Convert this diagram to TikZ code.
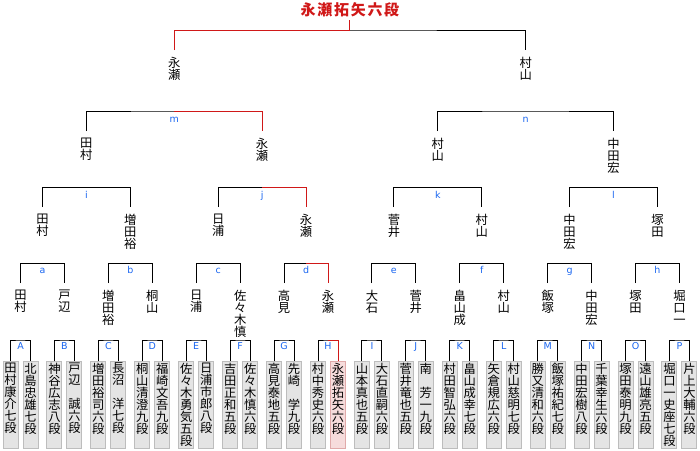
\documentclass[tikz,border=0pt]{standalone}
\usepackage{fontspec}
\newfontfamily\cjk{Noto Sans CJK JP}
\newfontfamily\labfam{DejaVu Sans}
\definecolor{wred}{HTML}{D01818}
\definecolor{lblue}{HTML}{1A66F0}
\definecolor{boxfill}{HTML}{E4E4E4}
\definecolor{boxline}{HTML}{BDBDBD}
\definecolor{pinkfill}{HTML}{F6DCDC}
\definecolor{pinkline}{HTML}{E0AAAA}
\makeatletter
\def\vt#1{\edef\vt@tmp{#1}\expandafter\vt@aux\vt@tmp\relax}
\def\vt@aux#1{\ifx\relax#1\else\hbox to 12pt{\hss#1\hss}\expandafter\vt@aux\fi}
\def\hzt#1{\edef\vt@tmp{#1}\expandafter\hz@aux\vt@tmp\relax}
\def\hz@aux#1{\ifx\relax#1\else\hbox to 16.7pt{\hss#1\hss}\expandafter\hz@aux\fi}
\makeatother
\def\vleaf#1{\vbox to 87pt{\baselineskip=12pt\lineskiplimit=-20pt\lineskip=0pt\kern1.5pt\vt{#1}\vss}}
\def\vname#1{\vbox{\baselineskip=12pt\lineskiplimit=-20pt\lineskip=0pt\vt{#1}}}
\begin{document}
\begin{tikzpicture}[x=1pt,y=-1pt,
  br/.style={draw=black,line width=1pt},
  rbr/.style={draw=wred,line width=1pt},
  leaf/.style={draw=boxline,fill=boxfill,line width=1pt,minimum width=15pt,minimum height=87pt,inner sep=0pt,anchor=north,font=\cjk\fontsize{12.3}{12}\selectfont},
  winleaf/.style={leaf,draw=pinkline,fill=pinkfill},
  nm/.style={inner xsep=0pt,inner ysep=7pt,anchor=north,font=\cjk\fontsize{12.3}{12}\selectfont},
  lab/.style={anchor=base,inner sep=0pt,text=lblue,font=\labfam\fontsize{9.5}{10}\selectfont},
  ttl/.style={anchor=south,inner xsep=0pt,inner ysep=3pt,text=wred,font=\cjk\bfseries\fontsize{15}{15}\selectfont}]
\useasboundingbox (0,0) rectangle (700,450);
% leaves, level-4 brackets, level-3 names
\foreach \k/\L/\a/\b/\s/\n in {
 0/A/田村康介七段/北島忠雄七段/leaf/田村,
 1/B/神谷広志八段/戸辺　誠六段/leaf/戸辺,
 2/C/増田裕司六段/長沼　洋七段/leaf/増田裕,
 3/D/桐山清澄九段/福崎文吾九段/leaf/桐山,
 4/E/佐々木勇気五段/日浦市郎八段/leaf/日浦,
 5/F/吉田正和五段/佐々木慎六段/leaf/佐々木慎,
 6/G/高見泰地五段/先崎　学九段/leaf/高見,
 7/H/村中秀史六段/永瀬拓矢六段/winleaf/永瀬,
 8/I/山本真也五段/大石直嗣六段/leaf/大石,
 9/J/菅井竜也五段/南　芳一九段/leaf/菅井,
 10/K/村田智弘六段/畠山成幸七段/leaf/畠山成,
 11/L/矢倉規広六段/村山慈明七段/leaf/村山,
 12/M/勝又清和六段/飯塚祐紀七段/leaf/飯塚,
 13/N/中田宏樹八段/千葉幸生六段/leaf/中田宏,
 14/O/塚田泰明九段/遠山雄亮五段/leaf/塚田,
 15/P/堀口一史座七段/片上大輔六段/leaf/堀口一}{
  \pgfmathsetmacro\px{20.5+43.93*\k}
  \node[leaf] (\L1) at (\px-10,361) {\vleaf{\a}};
  \node[\s] (\L2) at (\px+10,361) {\vleaf{\b}};
  \coordinate (b4-\k) at (\px,340);
  \draw[br] (\L1.north) |- (b4-\k) -| (\L2.north);
  \node[lab] (l\L) at (\px,349.3) {\L};
  \node[nm] (n3-\k) at (\px,283) {\vname{\n}};
}
% level-3 brackets, level-2 names
\foreach \j/\l/\n in {0/a/田村,1/b/増田裕,2/c/日浦,3/d/永瀬,4/e/菅井,5/f/村山,6/g/中田宏,7/h/塚田}{
  \pgfmathsetmacro\qx{42.465+87.86*\j}
  \pgfmathtruncatemacro\ka{2*\j}
  \pgfmathtruncatemacro\kb{2*\j+1}
  \coordinate (b3-\j) at (\qx,263.3);
  \draw[br] (n3-\ka.north) |- (b3-\j) -| (n3-\kb.north);
  \node[lab] (l3-\j) at (\qx,273.3) {\l};
  \node[nm] (n2-\j) at (\qx,207) {\vname{\n}};
}
% level-2 brackets, level-1 names
\foreach \i/\l/\n in {0/i/田村,1/j/永瀬,2/k/村山,3/l/中田宏}{
  \pgfmathsetmacro\rx{86.395+175.72*\i}
  \pgfmathtruncatemacro\ka{2*\i}
  \pgfmathtruncatemacro\kb{2*\i+1}
  \coordinate (b2-\i) at (\rx,187.3);
  \draw[br] (n2-\ka.north) |- (b2-\i) -| (n2-\kb.north);
  \node[lab] (l2-\i) at (\rx,198.3) {\l};
  \node[nm] (n1-\i) at (\rx,131) {\vname{\n}};
}
% level-1 brackets, level-0 names
\foreach \m/\l/\n in {0/m/永瀬,1/n/村山}{
  \pgfmathsetmacro\sx{174.255+351.44*\m}
  \pgfmathtruncatemacro\ka{2*\m}
  \pgfmathtruncatemacro\kb{2*\m+1}
  \coordinate (b1-\m) at (\sx,111);
  \draw[br] (n1-\ka.north) |- (b1-\m) -| (n1-\kb.north);
  \node[lab] (l1-\m) at (\sx,122) {\l};
  \node[nm] (n0-\m) at (\sx,50) {\vname{\n}};
}
% final
\coordinate (b0) at (349.975,30);
\node[ttl] (title) at (349.975,20) {\hzt{永瀬拓矢六段}};
\draw[br] (n0-0.north) |- (b0) -| (n0-1.north);
% winner path
\draw[rbr] (title.south) -- (b0) -| (n0-0.north);
\draw[rbr] (b1-0) -| (n1-1.north);
\draw[rbr] (b2-1) -| (n2-3.north);
\draw[rbr] (b3-3) -| (n3-7.north);
\draw[rbr] (b4-7) -| (H2.north);
\end{tikzpicture}
\end{document}
